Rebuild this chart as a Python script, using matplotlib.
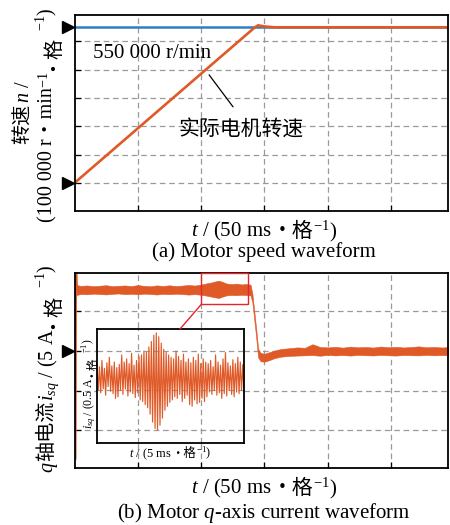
import matplotlib
matplotlib.use("Agg")
import matplotlib.pyplot as plt
from matplotlib.patches import Rectangle, ConnectionPatch
import numpy as np

# motor speed, t in ms, n in 100 000 r/min
speed_t = [0, 142.5, 145, 150, 158, 295]
speed_n = [0, 5.5, 5.57, 5.53, 5.5, 5.5]
speed_ref = 5.5

# q-axis current band (upper / lower edge), A
cur_t = [1.6, 5, 10, 15, 20, 25, 30, 35, 40, 45, 50, 55, 60, 65, 70, 75, 80, 85, 90, 95, 100,
         104, 108, 111, 114, 117, 120, 124, 128, 132, 136, 139,
         140.5, 142, 143.5, 145, 147, 150, 154, 158, 163, 170,
         176, 182, 188, 194, 200, 206, 212, 218, 224, 230, 236, 242, 248, 254, 260, 266, 272, 278,
         284, 290, 295]
cur_hi = [8.30, 8.20, 8.25, 8.15, 8.22, 8.28, 8.16, 8.21, 8.25, 8.17, 8.30, 8.20, 8.15, 8.26, 8.19,
          8.27, 8.18, 8.23, 8.31, 8.24, 8.36,
          8.50, 8.62, 8.75, 8.85, 8.70, 8.50, 8.42, 8.48, 8.38, 8.44, 8.35,
          7.20, 5.00, 2.80, 0.30, -0.25, -0.35, -0.15, 0.05, 0.25, 0.35,
          0.45, 0.40, 0.85, 0.50, 0.45, 0.52, 0.42, 0.55, 0.46, 0.50, 0.43, 0.56, 0.47, 0.52, 0.44,
          0.50, 0.58, 0.46, 0.51, 0.44, 0.48]
cur_lo = [7.05, 7.18, 7.14, 7.22, 7.17, 7.12, 7.20, 7.24, 7.15, 7.20, 7.13, 7.22, 7.18, 7.11, 7.20,
          7.15, 7.21, 7.17, 7.10, 7.16, 7.08,
          6.98, 6.85, 6.75, 6.68, 6.85, 7.00, 7.05, 7.02, 7.08, 7.04, 7.00,
          6.10, 3.90, 1.70, -0.80, -1.30, -1.35, -1.15, -0.90, -0.72, -0.62,
          -0.58, -0.55, -0.52, -0.60, -0.50, -0.56, -0.52, -0.58, -0.50, -0.54, -0.57, -0.50, -0.55,
          -0.58, -0.51, -0.54, -0.56, -0.50, -0.55, -0.52, -0.55]
# start-up current spike
spike_t = [0.4, 0.8, 1.6]
spike_i = [-13.5, 11.5, 7.7]

# zoomed current detail, A
zoom_i = [7.84, 7.50, 7.80, 7.47, 7.88, 7.52, 7.78, 7.44, 7.85, 7.55, 7.92, 7.49, 7.81, 7.46, 7.86, 7.40, 7.79, 7.42,
          7.83, 7.50, 7.95, 7.45, 7.86, 7.52, 7.90, 7.43, 7.84, 7.48, 7.97, 7.46, 7.82, 7.41, 7.88, 7.47, 7.93, 7.38,
          7.95, 7.36, 8.00, 7.32, 7.98, 7.28, 8.05,
          7.20, 8.12, 7.10, 8.20, 7.02, 8.23, 7.00, 8.18, 7.06, 8.10, 7.15, 8.02,
          7.25, 7.98, 7.30, 7.95, 7.35, 7.92, 7.38,
          7.90, 7.42, 8.00, 7.40, 7.93, 7.45, 7.88, 7.36, 7.96, 7.40, 7.86, 7.44,
          7.90, 7.32, 7.85, 7.30, 7.92, 7.38, 7.88, 7.33, 7.96, 7.35, 7.84, 7.40, 7.90, 7.36, 7.86, 7.42,
          7.84, 7.48, 7.88, 7.45, 7.80, 7.50, 7.95, 7.44, 7.86, 7.47, 7.82, 7.40, 7.90, 7.46, 7.98,
          7.43, 7.85, 7.50, 7.81, 7.45, 7.89, 7.42, 7.84, 7.48, 7.92, 7.46, 7.86, 7.50, 7.83, 7.47]

ORANGE = "#E05A28"
BLUE = "#2F7FC1"
RED = "#E8232B"
FAM = ["Liberation Serif", "Noto Sans CJK SC", "DejaVu Serif"]

plt.rcParams["font.family"] = FAM
plt.rcParams["mathtext.fontset"] = "custom"
plt.rcParams["mathtext.rm"] = "Liberation Serif"
plt.rcParams["mathtext.it"] = "Liberation Serif:italic"
plt.rcParams["mathtext.bf"] = "Liberation Serif:bold"

W, H = 450, 525
fig = plt.figure(figsize=(W / 100, H / 100), dpi=100)


def scope_axes(ax, yticks):
    ax.set_xlim(0, 295)
    ax.set_xticks([50, 100, 150, 200, 250])
    ax.set_yticks(yticks)
    ax.tick_params(direction="in", length=4, width=0.9, labelbottom=False, labelleft=False)
    ax.grid(True, color="#9a9a9a", lw=0.9, ls=(0, (4.5, 3)))
    ax.set_axisbelow(True)
    for s in ax.spines.values():
        s.set_linewidth(1.3)


def marker(ax, y):
    ax.plot([-0.018], [y], marker=">", ms=8, color="k", transform=ax.get_yaxis_transform(), clip_on=False)


def rich(cx, cy, parts, size=15, rotation=0):
    # parts are (string, gap before in px), written end to end and centred on (cx, cy) px from top-left
    r = fig.canvas.get_renderer()
    ws = []
    for s, _ in parts:
        t = fig.text(0, 0, s, fontsize=size)
        ws.append(t.get_window_extent(r).width)
        t.remove()
    total = sum(ws) + sum(g for _, g in parts)
    a = np.deg2rad(rotation)
    ux, uy = np.cos(a), np.sin(a)
    nx, ny = -np.sin(a), np.cos(a)
    drop = 0.33 * size * fig.dpi / 72
    px, py = cx, H - cy
    pos = -total / 2
    for (s, gap), w in zip(parts, ws):
        pos += gap
        x = px + pos * ux - drop * nx
        y = py + pos * uy - drop * ny
        fig.text(x / W, y / H, s, fontsize=size, rotation=rotation,
                 rotation_mode="anchor", ha="left", va="baseline")
        pos += w


# (a) speed
ax1 = fig.add_axes([74.5 / W, 1 - 211 / H, 373.5 / W, 195.6 / H])
scope_axes(ax1, [0, 1, 2, 3, 4, 5])
ax1.set_ylim(-0.99, 5.92)
ax1.plot([0, 295], [speed_ref, speed_ref], color=BLUE, lw=1.8)
ax1.plot(speed_t, speed_n, color=ORANGE, lw=1.9)
marker(ax1, speed_ref)
marker(ax1, 0)
ax1.text(15, 4.59, "550 000 r/min", fontsize=15, va="center")
ax1.text(131.5, 1.87, "实际电机转速", fontsize=15, ha="center", va="center")
ax1.annotate("", xy=(125.2, 2.69), xytext=(106.3, 3.82),
             arrowprops=dict(arrowstyle="-", color="k", lw=0.9, shrinkA=0, shrinkB=0))

# (b) q-axis current
ax2 = fig.add_axes([74.5 / W, 1 - 468 / H, 373.5 / W, 195 / H])
scope_axes(ax2, [-10, -5, 0, 5])
ax2.set_ylim(-14.74, 9.82)
ax2.fill_between(cur_t, cur_lo, cur_hi, color=ORANGE, lw=0.4, edgecolor=ORANGE)
ax2.plot(spike_t, spike_i, color=ORANGE, lw=2.2)
marker(ax2, 0)
ax2.add_patch(Rectangle((100.2, 5.88), 37.2, 9.82 - 5.88, fill=False, edgecolor=RED, lw=1.0,
                        zorder=4, clip_on=False))

# zoomed detail
ax3 = fig.add_axes([97 / W, 1 - 443 / H, 147 / W, 114 / H], zorder=5)
ax3.set_xlim(-3.26, 8.42)
ax3.set_ylim(6.835, 8.278)
ax3.set_xticks([0, 5])
ax3.set_yticks([7.0, 7.5, 8.0])
ax3.tick_params(length=0, labelbottom=False, labelleft=False)
ax3.grid(True, color="#9a9a9a", lw=0.9, ls=(0, (4.5, 3)))
ax3.set_axisbelow(True)
for s in ax3.spines.values():
    s.set_linewidth(1.3)
zoom_t = np.linspace(-3.26, 8.42, len(zoom_i))
ax3.plot(zoom_t, zoom_i, color=ORANGE, lw=0.85)

con = ConnectionPatch(xyA=(100.2, 5.88), coordsA=ax2.transData, xyB=(0.565, 1.0), coordsB=ax3.transAxes,
                      color=RED, lw=1.0, zorder=6)
fig.add_artist(con)

# axis titles
rich(22, 112, [("转速", 0), ("$n$ /", 1)], size=14.5, rotation=90)
rich(46, 115, [("(100 000 r・min", 0), ("$^{-1}$", 0), ("・格", 0), ("$^{-1}$)", 0)], size=14.5, rotation=90)
rich(264, 230, [("$t$ / (50 ms", 0), ("・格", 0), ("$^{-1}$)", 0)])
fig.text(264 / W, 1 - 252 / H, "(a) Motor speed waveform", fontsize=15, ha="center", va="center")

rich(46, 369, [("$q$", 0), ("轴电流", 0), ("$i_{sq}$ / (5 A", 0), ("・格", 0), ("$^{-1}$)", 0)],
     size=14.5, rotation=90)
rich(264, 487, [("$t$ / (50 ms", 0), ("・格", 0), ("$^{-1}$)", 0)])
fig.text(264 / W, 1 - 513 / H, "(b) Motor $q$-axis current waveform", fontsize=15, ha="center", va="center")

rich(88, 384, [("$i_{sq}$ / (0.5 A", 0), ("・格", 0), ("$^{-1}$)", 0)], size=8.5, rotation=90)
rich(170, 453, [("$t$ / (5 ms", 0), ("・格", 0), ("$^{-1}$)", 0)], size=9)

fig.savefig("out.png", dpi=100)
